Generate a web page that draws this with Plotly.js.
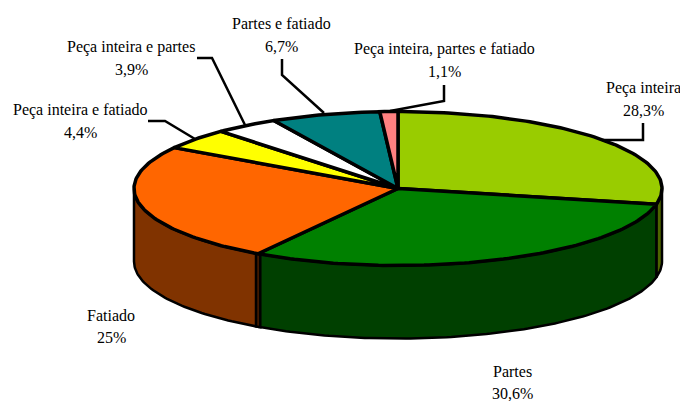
<!DOCTYPE html>
<html>
<head>
<meta charset="utf-8">
<script src="https://cdn.plot.ly/plotly-3.0.1.min.js"></script>
<style>html,body{margin:0;padding:0;background:#fff}#c{width:680px;height:401px}</style>
</head>
<body>
<div id="c"></div>
<script>
const categories = ["Peça inteira","Partes","Fatiado","Peça inteira e fatiado","Peça inteira e partes","Partes e fatiado","Peça inteira, partes e fatiado"];
const values = [28.3,30.6,25,4.4,3.9,6.7,1.1];
const topColors = ["#99CC00","#008000","#FF6600","#FFFF00","#FFFFFF","#008080","#FF8080"];
const sideColors = ["#4D6600","#004000","#803300","#808000","#808080","#004040","#804040"];

// label layout: centre x, name-line y, value-line y
const labelPos = [[643,88,110],[512,371,393],[111,315,337],[80,110,132],[131,47,69],[281,23,46],[444,49,71]];
const leaders = [
  "M643,123 L643,140 L602,140",
  "M148,121 L165,121 L195,139",
  "M197,58 L212,58 L245,125",
  "M282,59 L282,75 L324,113",
  "M444,85 L444,101 L390,111"
];

const cx=398, cy=188.5, rx=264, ry=77, depth=73;
const total = values.reduce((a,b)=>a+b,0);
const px = d => cx + rx*Math.sin(d*Math.PI/180);
const py = (d,off=0) => cy - ry*Math.cos(d*Math.PI/180) + off;
function arc(a,b,off){
  const n = Math.max(2,Math.ceil(Math.abs(b-a)/1)), xs=[], ys=[];
  for(let i=0;i<=n;i++){const d=a+(b-a)*i/n; xs.push(px(d)); ys.push(py(d,off));}
  return [xs,ys];
}
const poly=(x,y,fill,w)=>({type:"scatter",mode:"lines",x,y,fill:"toself",fillcolor:fill,
  line:{color:"#000",width:w,shape:"linear"},hoverinfo:"skip",showlegend:false});

let edges=[0];
values.forEach(v=>edges.push(edges[edges.length-1]+v/total*360));
const traces=[];
// side walls (front half only)
function wall(a,b,color){
  const [x1,y1]=arc(a,b,0), [x2,y2]=arc(b,a,depth);
  traces.push(poly([...x1,...x2,x1[0]],[...y1,...y2,y1[0]],color,2.5));
}
values.forEach((v,i)=>{
  const a=Math.max(edges[i],90), b=Math.min(edges[i+1],270);
  if(b>a) wall(a,b,sideColors[i]);
});
// narrow cut face between Partes and Fatiado
wall(edges[2]-0.6,edges[2]+0.5,"#401A00");
// top slices
values.forEach((v,i)=>{
  const [x,y]=arc(edges[i],edges[i+1],0);
  traces.push(poly([cx,...x,cx],[cy,...y,cy],topColors[i],3.5));
});

const fmt=v=>String(v).replace(".",",")+"%";
const annotations=[];
const textFont={family:"'Liberation Serif','Times New Roman',serif",size:16,color:"#000"};
categories.forEach((c,i)=>{
  const [x,y1,y2]=labelPos[i];
  [[c,y1],[fmt(values[i]),y2]].forEach(([t,y])=>annotations.push({
    x,y,xref:"x",yref:"y",text:t,showarrow:false,xanchor:"center",yanchor:"middle",font:textFont
  }));
});
const shapes=leaders.map(p=>({type:"path",path:p,xref:"x",yref:"y",line:{color:"#000",width:2.5}}));

Plotly.newPlot("c",traces,{
  width:680,height:401,margin:{l:0,r:0,t:0,b:0},
  paper_bgcolor:"#fff",plot_bgcolor:"#fff",showlegend:false,
  xaxis:{range:[0,680],visible:false,fixedrange:true},
  yaxis:{range:[401,0],visible:false,fixedrange:true},
  annotations,shapes
},{displayModeBar:false,staticPlot:true});
</script>
</body>
</html>
